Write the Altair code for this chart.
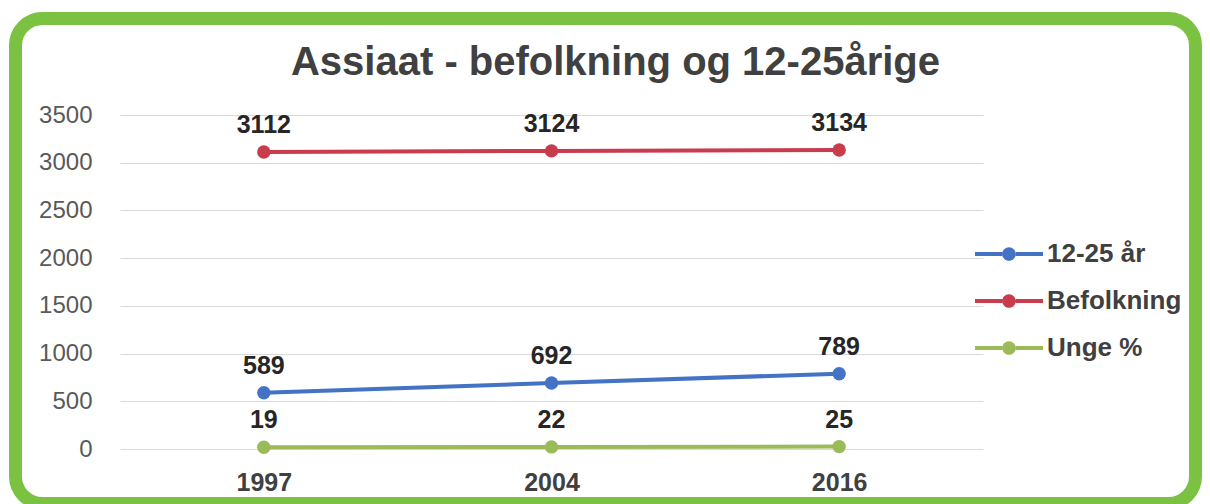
import altair as alt
import pandas as pd

years = ["1997", "2004", "2016"]
series = ["12-25 år", "Befolkning", "Unge %"]
young = [589, 692, 789]
population = [3112, 3124, 3134]
young_pct = [19, 22, 25]
colors = ["#4472C4", "#C83C4E", "#9BBB59"]
y_ticks = [0, 500, 1000, 1500, 2000, 2500, 3000, 3500]
title_text = "Assiaat - befolkning og 12-25årige"

rows = []
for s, vals in zip(series, [young, population, young_pct]):
    for yr, v in zip(years, vals):
        rows.append({"Year": yr, "Series": s, "Value": v})
df = pd.DataFrame(rows)

W, H = 863, 334
FONT = "Liberation Sans"

sym_path = ("M-1,-0.06 L-0.2,-0.06 L-0.2,0.06 L-1,0.06 Z "
            "M0.2,-0.06 L1,-0.06 L1,0.06 L0.2,0.06 Z "
            "M-0.2,0 A0.2,0.2 0 1,0 0.2,0 A0.2,0.2 0 1,0 -0.2,0 Z")

legend = alt.Legend(
    title=None, orient="none", legendX=855, legendY=105,
    symbolType=sym_path, symbolSize=4624, symbolStrokeWidth=0,
    labelFontSize=26, labelFontWeight="bold", labelColor="#404040",
    labelFont=FONT, labelOffset=4, rowPadding=-24, padding=0,
)

x_enc = alt.X("Year:O", sort=years,
              scale=alt.Scale(type="point", padding=0.5),
              axis=alt.Axis(title=None, labelAngle=0, ticks=False, domain=False,
                            labelFontSize=25, labelFontWeight="bold",
                            labelColor="#404040", labelPadding=21, labelFont=FONT,
                            grid=False, zindex=1))
y_enc = alt.Y("Value:Q", scale=alt.Scale(domain=[0, 3500], nice=False),
              axis=alt.Axis(title=None, values=y_ticks, ticks=False, domain=False,
                            format="d",
                            labelFontSize=24, labelColor="#595959", labelPadding=28,
                            labelFont=FONT, gridColor="#D9D9D9", gridWidth=1))
color_enc = alt.Color("Series:N", sort=series,
                      scale=alt.Scale(domain=series, range=colors), legend=legend)

base = alt.Chart(df).encode(x=x_enc, y=y_enc, color=color_enc)

lines = base.mark_line(strokeWidth=4)
points = base.mark_circle(size=180, opacity=1)
labels = base.mark_text(dy=-27, fontSize=25, fontWeight="bold", font=FONT).encode(
    text="Value:Q", color=alt.value("#262626"))

frame = alt.Chart(pd.DataFrame({"k": [0]})).mark_rect(
    fillOpacity=0, stroke="#7CC242", strokeWidth=13, cornerRadius=27
).encode(x=alt.value(-104.5), x2=alt.value(1075.5),
         y=alt.value(-96.5), y2=alt.value(388.5))

chart = alt.layer(frame, lines, points, labels).properties(
    width=W, height=H,
    title=alt.TitleParams(title_text, fontSize=40, fontWeight="bold", font=FONT,
                          color="#404040", anchor="middle", dx=64, offset=30,
                          baseline="alphabetic", dy=133),
    autosize=alt.AutoSizeParams(type="none"),
    padding={"left": 112, "top": 107, "right": 219, "bottom": 55},
    background="white",
).configure_view(stroke=None)

chart.save("out.html", embed_options={"renderer": "svg", "actions": False})
